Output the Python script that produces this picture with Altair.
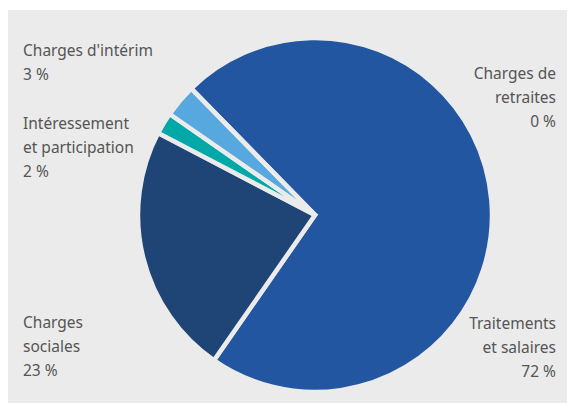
import math
import altair as alt
import pandas as pd

# Data
categories = ["Traitements et salaires", "Charges sociales", "Intéressement et participation",
              "Charges d'intérim", "Charges de retraites"]
values = [72, 23, 2, 3, 0]
colors = ["#2356a0", "#1f4476", "#00a9a8", "#56a8de", "#2356a0"]
label_lines = [
    ["Traitements", "et salaires", "72 %"],
    ["Charges", "sociales", "23 %"],
    ["Intéressement", "et participation", "2 %"],
    ["Charges d'intérim", "3 %"],
    ["Charges de", "retraites", "0 %"],
]

df = pd.DataFrame({"cat": categories, "val": values, "ordre": list(range(len(categories)))})

# Layout (view coords; view starts at (8,10) in the page)
PAD_L, PAD_T = 8, 10
CX, CY = 315 - PAD_L, 215 - PAD_T
START = math.radians(-44.4)
label_layout = [
    (556, 329, "right"),
    (23, 328, "left"),
    (23, 129, "left"),
    (23, 56, "left"),
    (556, 79, "right"),
]

pie = alt.Chart(df).mark_arc(
    outerRadius=177, stroke="#ebebeb", strokeWidth=4.5, strokeJoin="miter"
).encode(
    theta=alt.Theta("val:Q", stack=True, scale=alt.Scale(range=[START, START + 2 * math.pi])),
    color=alt.Color("cat:N", scale=alt.Scale(domain=categories, range=colors), legend=None),
    order=alt.Order("ordre:Q"),
    x=alt.value(CX),
    y=alt.value(CY),
)

layers = [pie]
for lines, (lx, ly, al) in zip(label_lines, label_layout):
    t = alt.Chart(pd.DataFrame({"t": ["\n".join(lines)]})).mark_text(
        align=al, baseline="alphabetic", lineBreak="\n", lineHeight=24,
        font="Noto Sans", fontSize=15.5, color="#555555",
    ).encode(
        text="t:N",
        x=alt.value(lx - PAD_L),
        y=alt.value(ly - PAD_T),
    )
    layers.append(t)

chart = alt.layer(*layers).properties(
    width=559, height=393,
    autosize=alt.AutoSizeParams(type="none"),
    padding={"left": PAD_L, "top": PAD_T, "right": 1, "bottom": 2},
    background="white",
).configure_view(fill="#ebebeb", stroke=None)

chart.save("out.html", embed_options={"renderer": "svg", "actions": False})
